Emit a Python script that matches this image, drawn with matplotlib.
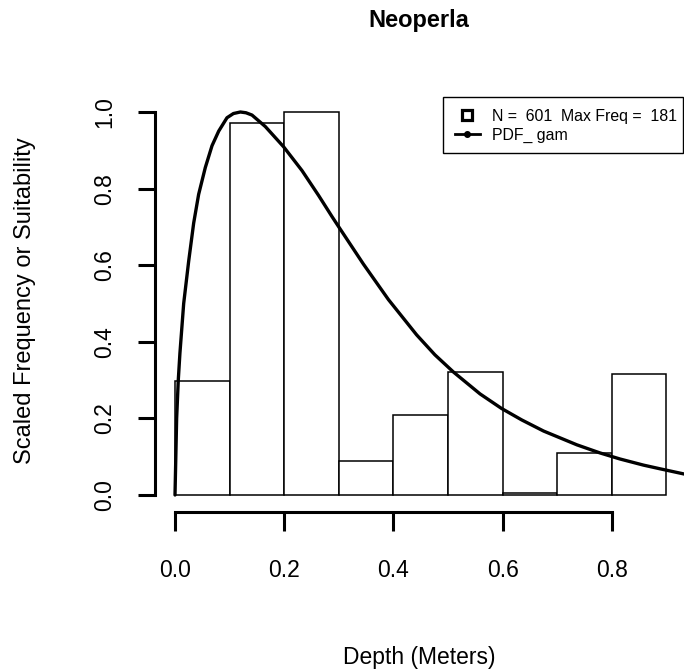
import matplotlib
matplotlib.use("Agg")
from matplotlib import pyplot as plt
from matplotlib.lines import Line2D
from matplotlib.patches import Rectangle

plt.rcParams['font.family'] = ['Liberation Sans', 'DejaVu Sans']

# histogram of depths (bins of 0.1 m), counts scaled by the max count
bin_left = [0.0, 0.1, 0.2, 0.3, 0.4, 0.5, 0.6, 0.7, 0.8]
counts = [54, 176, 181, 16, 38, 58, 1, 20, 57]
n_total = 601
max_freq = 181

# fitted gamma suitability curve
curve_x = [0.0, 0.003, 0.006, 0.009, 0.0159, 0.025, 0.0342, 0.0433, 0.0555,
           0.0678, 0.080, 0.0952, 0.107, 0.1197, 0.130, 0.141, 0.1654, 0.199,
           0.2326, 0.263, 0.2875, 0.299, 0.345, 0.391, 0.4426, 0.476, 0.510,
           0.5586, 0.598, 0.635, 0.675, 0.736, 0.778, 0.815, 0.858, 0.888, 0.935]
curve_y = [0.0, 0.20, 0.30, 0.37, 0.50, 0.61, 0.71, 0.785, 0.855,
           0.912, 0.950, 0.985, 0.996, 1.0, 0.998, 0.992, 0.962, 0.909,
           0.847, 0.782, 0.727, 0.702, 0.603, 0.510, 0.418, 0.366, 0.321,
           0.264, 0.226, 0.196, 0.167, 0.131, 0.110, 0.094, 0.078, 0.0685, 0.054]

x_ticks = [0.0, 0.2, 0.4, 0.6, 0.8]
y_ticks = [0.0, 0.2, 0.4, 0.6, 0.8, 1.0]

W, H = 684, 670
fig = plt.figure(figsize=(W / 100, H / 100), dpi=100)
ax = fig.add_axes([154.5 / W, (H - 512) / H, (W - 154.5) / W, (512 - 94) / H])

scaled = [c / max_freq for c in counts]
ax.bar(bin_left, scaled, width=0.1, align='edge', color='white',
       edgecolor='black', linewidth=1.1)
ax.plot(curve_x, curve_y, color='black', linewidth=2.4,
        solid_capstyle='round', solid_joinstyle='round')

ax.set_xlim(-0.03755, 0.9322)
ax.set_ylim(-0.0444, 1.047)

for s in ['top', 'right']:
    ax.spines[s].set_visible(False)
ax.spines['left'].set_bounds(0, 1)
ax.spines['bottom'].set_bounds(0, 0.8)
for s in ['left', 'bottom']:
    ax.spines[s].set_linewidth(2.2)
    ax.spines[s].set_capstyle('projecting')

ax.set_xticks(x_ticks)
ax.set_xticklabels(['%.1f' % v for v in x_ticks])
ax.set_yticks(y_ticks)
ax.set_yticklabels(['%.1f' % v for v in y_ticks])
ax.tick_params(axis='x', direction='out', length=13.5, width=2.2, pad=20.5, labelsize=16.5)
ax.tick_params(axis='y', direction='out', length=12.5, width=2.2, pad=15, labelsize=16.5)
plt.setp(ax.get_yticklabels(), rotation=90, va='center')

# legend (box drawn separately so the padding can be uneven like the original)
handles = [
    Line2D([], [], linestyle='none', marker='s', markersize=6.5, markeredgewidth=2.3,
           markerfacecolor='white', markeredgecolor='black'),
    Line2D([], [], color='black', linewidth=2, marker='o', markersize=4),
]
labels = ['N =  %d  Max Freq =  %d' % (n_total, max_freq), 'PDF_ gam']
ax.legend(handles, labels, loc='upper left',
          bbox_to_anchor=(443 / W, 1 - 97 / H), bbox_transform=fig.transFigure,
          borderaxespad=0, borderpad=0.75, handlelength=1.58, handletextpad=0.76,
          labelspacing=0.25, fontsize=11.4, frameon=False)
fig.patches.append(Rectangle((443 / W, 1 - 153 / H), 240 / W, 56 / H,
                             transform=fig.transFigure, fill=False,
                             edgecolor='black', linewidth=1.0))

fig.text(419 / W, 1 - 27 / H, 'Neoperla', ha='center', va='baseline',
         fontsize=17, fontweight='bold')
fig.text(419.5 / W, 1 - 664 / H, 'Depth (Meters)', ha='center', va='baseline',
         fontsize=16.5)
fig.text(24.7 / W, 1 - 301 / H, 'Scaled Frequency or Suitability', rotation=90,
         ha='center', va='center', fontsize=17)

fig.savefig('out.png', dpi=100)
